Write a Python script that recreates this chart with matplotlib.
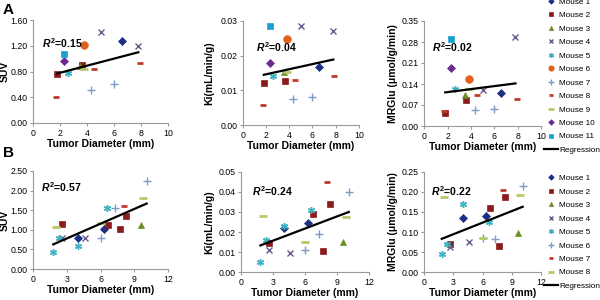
import numpy as np
import matplotlib.pyplot as plt

plt.rcParams['font.family'] = ['Liberation Sans', 'DejaVu Sans']
plt.rcParams['mathtext.fontset'] = 'custom'
plt.rcParams['mathtext.it'] = 'Liberation Sans:italic:bold'
plt.rcParams['mathtext.rm'] = 'Liberation Sans:bold'

# ---- panel A data (diameter in mm per mouse) ----
a_names = ['Mouse 1', 'Mouse 2', 'Mouse 3', 'Mouse 4', 'Mouse 5', 'Mouse 6',
           'Mouse 7', 'Mouse 8', 'Mouse 9', 'Mouse 10', 'Mouse 11']
a_diam = [[6.6], [1.8, 3.6], [3.5], [5.0, 7.8], [2.6], [3.8],
          [4.3, 6.0], [1.7, 4.5, 7.9], [3.8], [2.3], [2.3]]
a_suv = [[1.27], [0.76, 0.90], [0.89], [1.41, 1.19], [0.78], [1.21],
         [0.51, 0.61], [0.40, 0.84, 0.94], [0.84], [0.96], [1.07]]
a_ki = [[0.0167], [0.0122, 0.0128], [0.0152], [0.0285, 0.0270], [0.0141], [0.0249],
        [0.0075, 0.0082], [0.0058, 0.0130, 0.0142], [0.0152], [0.0179], [0.0285]]
a_mrglu = [[0.110], [0.044, 0.087], [0.105], [0.120, 0.297], [0.122], [0.157],
           [0.054, 0.058], [0.050, 0.103, 0.090], [0.122], [0.193], [0.290]]
a_reg_x = [1.8, 7.8]
a_reg_suv = [0.77, 1.10]
a_reg_ki = [0.0145, 0.0189]
a_reg_mrglu = [0.112, 0.142]
a_r2 = ['0.15', '0.04', '0.02']

# ---- panel B data ----
b_names = ['Mouse 1', 'Mouse 2', 'Mouse 3', 'Mouse 4', 'Mouse 5', 'Mouse 6',
           'Mouse 7', 'Mouse 8']
b_diam = [[4.0, 6.3], [2.6, 6.7, 7.7, 8.3], [9.6], [2.6, 4.6],
          [1.8, 2.3, 4.0, 6.6], [6.0, 7.3, 10.1], [8.1], [2.0, 6.0, 9.8]]
b_suv = [[0.78, 1.01], [1.14, 1.13, 1.03, 1.36], [1.12], [0.78, 0.80],
         [0.43, 0.79, 0.58, 1.55], [0.80, 1.55, 2.24], [1.62], [1.08, 1.17, 1.80]]
b_ki = [[0.022, 0.0245], [0.0145, 0.029, 0.0105, 0.034], [0.015], [0.011, 0.0095],
        [0.005, 0.016, 0.023, 0.031], [0.011, 0.019, 0.040], [0.045], [0.028, 0.015, 0.0275]]
b_mrglu = [[0.134, 0.141], [0.070, 0.159, 0.065, 0.188], [0.097], [0.062, 0.076],
           [0.046, 0.070, 0.170, 0.125], [0.084, 0.082, 0.215], [0.205], [0.188, 0.085, 0.192]]
b_reg_x = [1.8, 10.1]
b_reg_suv = [0.63, 1.67]
b_reg_ki = [0.0133, 0.030]
b_reg_mrglu = [0.083, 0.163]
b_r2 = ['0.57', '0.24', '0.22']

star = (6, 2, 0)
# marker, colour, size, edge width
a_style = [('D', '#1c2f86', 4.0, 0.5), ('s', '#8b1a1a', 5.0, 0.5), ('^', '#6b8e23', 4.5, 0.5),
           ('x', '#6a5a8c', 4.5, 1.0), (star, '#3ab2c2', 5, 1.0), ('o', '#e0601c', 5.5, 0.5),
           ('+', '#7d9bc8', 5.5, 1.0), ('_', '#c0392b', 4.5, 2.0), ('_', '#b5c96a', 5.5, 2.0),
           ('D', '#6a2c91', 4.0, 0.5), ('s', '#1aa0d0', 5.0, 0.5)]
b_style = [('D', '#1c2f86', 4.0, 0.5), ('s', '#8b1a1a', 5.0, 0.5), ('^', '#6b8e23', 4.5, 0.5),
           ('x', '#6a5a8c', 4.5, 1.0), (star, '#3ab2c2', 5, 1.0), ('+', '#7d9bc8', 5.5, 1.0),
           ('_', '#c0392b', 4.5, 2.0), ('_', '#b5c96a', 5.5, 2.0)]

fig = plt.figure(figsize=(6, 3), dpi=100, facecolor='w')

def panel(rect, diam, vals, style, names, regx, regy, xmax, xstep, ymax, ystep, ylabel, ylab_px, r2, r2pos):
    ax = fig.add_axes(rect)
    for d, v, st, nm in zip(diam, vals, style, names):
        m, c, ms, mew = st
        ax.plot(d, v, linestyle='none', marker=m, color=c, markersize=ms,
                markeredgewidth=mew, label=nm)
    ax.plot(regx, regy, color='black', lw=1.6, label='Regression')
    ax.set_xlim(0, xmax)
    ax.set_ylim(0, ymax)
    ax.set_xticks(np.arange(0, xmax + 0.001, xstep))
    yt = np.arange(0, ymax + ystep / 10, ystep)
    ax.set_yticks(yt)
    ax.set_yticklabels(['%.2f' % t for t in yt])
    for s in ['top', 'right']:
        ax.spines[s].set_visible(False)
    for s in ['left', 'bottom']:
        ax.spines[s].set_color('#9a9a9a')
        ax.spines[s].set_linewidth(0.8)
    ax.tick_params(length=2, width=0.8, color='#9a9a9a', labelsize=6.3, pad=2)
    ax.set_xlabel('Tumor Diameter (mm)', fontsize=7.5, fontweight='bold', labelpad=1)
    ax.set_ylabel(ylabel, fontsize=7.5, fontweight='bold')
    ax.yaxis.set_label_coords(-ylab_px / (rect[2] * 600), 0.5)
    ax.text(r2pos[0], r2pos[1], r'$\mathit{R}^{2}$' + '=' + r2, transform=ax.transAxes,
            fontsize=7.5, fontweight='bold', va='center')
    return ax

axA1 = panel([0.055, 0.59, 0.225, 0.343], a_diam, a_suv, a_style, a_names, a_reg_x, a_reg_suv,
             10, 2, 1.6, 0.4, 'SUV', 23, a_r2[0], (0.07, 0.78))
axA2 = panel([0.405, 0.583, 0.193, 0.347], a_diam, a_ki, a_style, a_names, a_reg_x, a_reg_ki,
             10, 2, 0.03, 0.01, 'Ki(mL/min/g)', 29, a_r2[1], (0.11, 0.75))
axA3 = panel([0.707, 0.58, 0.195, 0.35], a_diam, a_mrglu, a_style, a_names, a_reg_x, a_reg_mrglu,
             10, 2, 0.35, 0.07, 'MRGlu (μmol/g/min)', 26, a_r2[2], (0.07, 0.75))
axB1 = panel([0.055, 0.103, 0.225, 0.327], b_diam, b_suv, b_style, b_names, b_reg_x, b_reg_suv,
             12, 3, 2.5, 0.5, 'SUV', 23, b_r2[0], (0.06, 0.84))
axB2 = panel([0.402, 0.093, 0.213, 0.334], b_diam, b_ki, b_style, b_names, b_reg_x, b_reg_ki,
             12, 3, 0.05, 0.01, 'Ki(mL/min/g)', 27, b_r2[1], (0.086, 0.81))
axB3 = panel([0.707, 0.093, 0.195, 0.334], b_diam, b_mrglu, b_style, b_names, b_reg_x, b_reg_mrglu,
             12, 3, 0.25, 0.05, 'MRGlu (μmol/g/min)', 26, b_r2[2], (0.06, 0.81))

for ax, pos in [(axA3, (0.904, 1.012)), (axB3, (0.904, 0.424))]:
    h, l = ax.get_legend_handles_labels()
    fig.legend(h, l, loc='upper left', bbox_to_anchor=pos, frameon=False, fontsize=5.9,
               handlelength=1.75, handletextpad=0.12, labelspacing=0.7, borderpad=0.2,
               borderaxespad=0, markerscale=0.7)

fig.text(0.005, 0.967, 'A', fontsize=11, fontweight='bold', va='center')
fig.text(0.005, 0.49, 'B', fontsize=11, fontweight='bold', va='center')

fig.savefig('out.png', dpi=100)
